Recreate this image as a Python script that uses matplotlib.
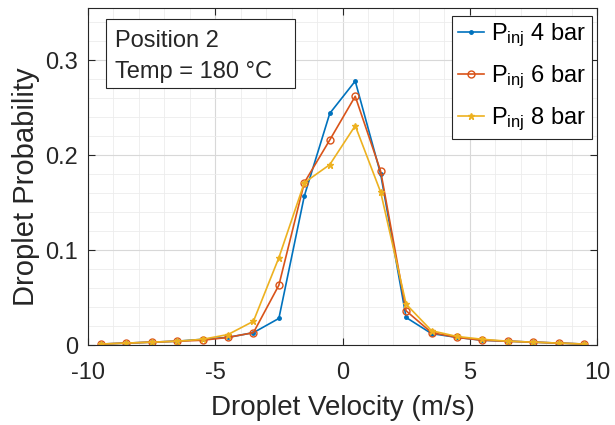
import matplotlib
matplotlib.use("Agg")
import matplotlib.pyplot as plt
from matplotlib.ticker import MultipleLocator
from matplotlib.patches import Rectangle

plt.rcParams['font.family'] = ['Liberation Sans', 'DejaVu Sans']
plt.rcParams['mathtext.fontset'] = 'custom'
plt.rcParams['mathtext.rm'] = 'Liberation Sans'
plt.rcParams['mathtext.it'] = 'Liberation Sans'
plt.rcParams['axes.unicode_minus'] = False

velocity = [-9.5, -8.5, -7.5, -6.5, -5.5, -4.5, -3.5, -2.5, -1.5, -0.5,
            0.5, 1.5, 2.5, 3.5, 4.5, 5.5, 6.5, 7.5, 8.5, 9.5]
p4 = [0.001, 0.002, 0.003, 0.004, 0.006, 0.008, 0.013, 0.028, 0.157, 0.244,
      0.278, 0.180, 0.029, 0.012, 0.008, 0.005, 0.004, 0.003, 0.002, 0.001]
p6 = [0.001, 0.002, 0.003, 0.004, 0.005, 0.008, 0.013, 0.063, 0.171, 0.216,
      0.262, 0.183, 0.036, 0.013, 0.008, 0.005, 0.004, 0.003, 0.002, 0.001]
p8 = [0.001, 0.002, 0.003, 0.004, 0.006, 0.011, 0.025, 0.092, 0.171, 0.190,
      0.231, 0.161, 0.043, 0.015, 0.009, 0.006, 0.004, 0.003, 0.002, 0.001]
labels = [r'P$_{\mathrm{inj}}$ 4 bar', r'P$_{\mathrm{inj}}$ 6 bar', r'P$_{\mathrm{inj}}$ 8 bar']
annotation = ['Position 2', 'Temp = 180 °C']

fig = plt.figure(figsize=(6.15, 4.25), dpi=100)
ax = fig.add_axes([88/615, 1-345/425, (597-88)/615, (345-8)/425])

ax.plot(velocity, p4, color='#0072BD', marker='.', markersize=5, lw=1.2, label=labels[0])
ax.plot(velocity, p6, color='#D95319', marker='o', markersize=5, mfc='none', lw=1.2, label=labels[1])
ax.plot(velocity, p8, color='#EDB120', marker='*', markersize=5, lw=1.2, label=labels[2])

ax.set_xlim(-10, 10)
ax.set_ylim(0, 0.355)
ax.xaxis.set_major_locator(MultipleLocator(5))
ax.xaxis.set_minor_locator(MultipleLocator(1))
ax.yaxis.set_major_locator(MultipleLocator(0.1))
ax.yaxis.set_minor_locator(MultipleLocator(0.02))
ax.set_yticks([0, 0.1, 0.2, 0.3])
ax.set_yticklabels(['0', '0.1', '0.2', '0.3'])
ax.grid(which='major', color='#d8d8d8', lw=0.8)
ax.grid(which='minor', color='#ececec', lw=0.6)
ax.set_axisbelow(True)
ax.tick_params(which='both', direction='in', top=True, right=True, labelsize=17, colors='#262626')
ax.tick_params(which='minor', length=0)
ax.tick_params(which='major', length=5)
ax.tick_params(axis='x', which='major', pad=12)
ax.tick_params(axis='y', which='major', pad=7)
for s in ax.spines.values():
    s.set_color('#262626')
    s.set_linewidth(0.8)

ax.set_xlabel('Droplet Velocity (m/s)', fontsize=20, color='#262626', labelpad=8)
ax.set_ylabel('Droplet Probability', fontsize=21, color='#262626', labelpad=4)
ax.yaxis.label.set_y(0.47)

# annotation box
ax.add_patch(Rectangle((0.035, 0.763), 0.372, 0.204, transform=ax.transAxes,
                       fc='white', ec='#262626', lw=0.8, zorder=5))
ax.text(0.053, 0.884, annotation[0], transform=ax.transAxes, fontsize=17,
        va='baseline', ha='left', color='#262626', zorder=6)
ax.text(0.053, 0.792, annotation[1], transform=ax.transAxes, fontsize=17,
        va='baseline', ha='left', color='#262626', zorder=6)

leg = ax.legend(loc='upper right', bbox_to_anchor=(0.990, 0.976), fontsize=17,
                frameon=True, fancybox=False, framealpha=1,
                edgecolor='#262626', handlelength=1.1, handletextpad=0.3,
                borderpad=0.25, labelspacing=0.62, borderaxespad=0.0)
leg.get_frame().set_linewidth(0.8)

fig.savefig('out.png', dpi=100)
